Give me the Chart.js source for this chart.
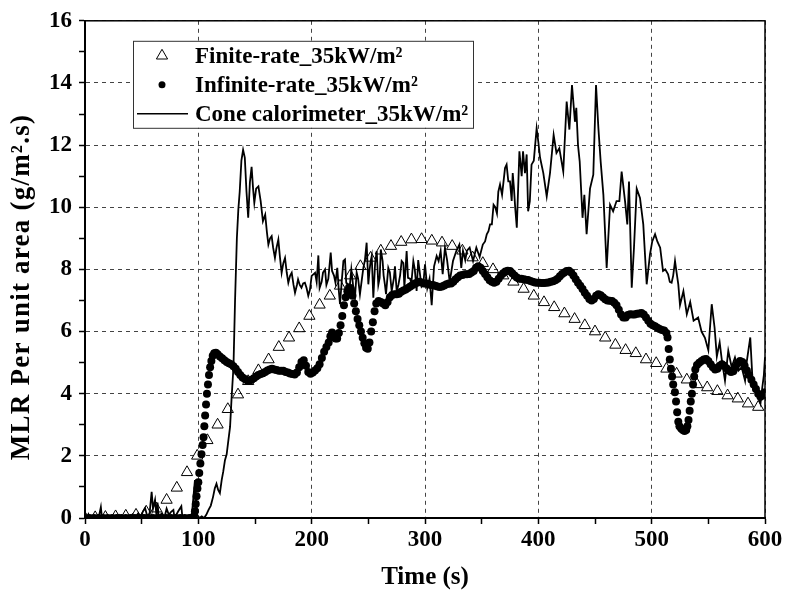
<!DOCTYPE html>
<html>
<head>
<meta charset="utf-8">
<script src="https://cdn.jsdelivr.net/npm/chart.js@4.4.1/dist/chart.umd.min.js"></script>
<style>
  html, body { margin: 0; padding: 0; background: #fff; }
  #wrap { width: 785px; height: 595px; }
</style>
</head>
<body>
<div id="wrap"><canvas id="mlr_chart" width="785" height="595"></canvas></div>
<script>
// Finite-rate model (triangles)
const finiteTime = [0, 9, 18, 27, 36, 45, 54, 63, 72, 81, 90, 99, 108, 117, 126, 135, 144, 153, 162, 171,
  180, 189, 198, 207, 216, 225, 234, 243, 252, 261, 270, 279, 288, 297, 306, 315, 324, 333, 342, 351,
  360, 369, 378, 387, 396, 405, 414, 423, 432, 441, 450, 459, 468, 477, 486, 495, 504, 513, 522, 531,
  540, 549, 558, 567, 576, 585, 594];
const finiteMLR = [0, 0.02, 0.03, 0.05, 0.07, 0.1, 0.2, 0.3, 0.58, 0.97, 1.47, 2.0, 2.5, 3.0, 3.5, 3.97, 4.4, 4.75, 5.1, 5.5,
  5.8, 6.1, 6.5, 6.86, 7.15, 7.47, 7.8, 8.1, 8.37, 8.6, 8.75, 8.88, 8.96, 8.97, 8.92, 8.86, 8.75, 8.6, 8.38, 8.2,
  8.0, 7.8, 7.6, 7.37, 7.15, 6.94, 6.78, 6.58, 6.4, 6.2, 6.0, 5.8, 5.57, 5.4, 5.3, 5.1, 4.98, 4.8, 4.64, 4.45,
  4.3, 4.2, 4.08, 3.94, 3.84, 3.68, 3.57];

// Infinite-rate model (dots)
const infiniteTime = [0, 4, 8, 12, 16, 20, 24, 28, 32, 36, 40, 44, 48, 52, 56, 60, 64, 68, 72, 76, 80, 84, 88, 92, 94,
  96, 97, 97.7, 98.4, 99.2, 100, 100.8, 101.8, 102.8, 103.8, 104.6, 105.3, 106, 106.8, 107.6, 108.5, 109.4, 110.4, 111.5, 112.7,
  114, 115.5, 117, 119, 121, 123, 125, 127, 129, 131, 133, 135, 137, 139, 141, 143, 145, 147, 149, 151, 153, 155, 157, 159,
  161, 163, 165, 167, 169, 171, 173, 175, 177, 179, 181, 183, 185, 187, 189, 191, 193, 195, 197, 199, 201, 203, 205, 207, 209,
  211, 213, 215, 216.5, 218, 219.5, 221, 222.5, 224, 225.5, 227, 228.5, 230, 231.5, 233, 234.5, 236, 237.5, 239, 240.5, 242,
  243.5, 245, 246.5, 248, 249.5, 251, 252.5, 254, 255.5, 257, 259, 261, 263, 265, 267, 269, 271, 273, 275, 277, 279, 281, 283,
  285, 287, 289, 291, 293, 295, 297, 299, 301, 303, 305, 307, 309, 311, 313, 315, 317, 319, 321, 323, 325, 327, 329, 331, 333,
  335, 337, 339, 341, 343, 345, 347, 349, 351, 353, 355, 357, 359, 361, 363, 365, 367, 369, 371, 373, 375, 377, 379, 381, 383,
  385, 387, 389, 391, 393, 395, 397, 399, 401, 403, 405, 407, 409, 411, 413, 415, 417, 419, 421, 423, 425, 427, 429, 431, 433,
  435, 437, 439, 441, 443, 445, 447, 449, 451, 453, 455, 457, 459, 461, 463, 465, 467, 469, 471, 473, 475, 477, 479, 481, 483,
  485, 487, 489, 491, 493, 495, 497, 499, 501, 503, 505, 507, 509, 511, 513, 514, 515, 516, 517, 518, 519, 520.5, 521.5, 522.5,
  523.5, 524.5, 526, 527.5, 529, 530.5, 531.5, 532.5, 533.5, 534.5, 535.5, 536.5, 537.5, 538.5, 540, 542, 544, 546, 548, 550,
  552, 554, 556, 558, 560, 562, 564, 566, 568, 570, 572, 574, 576, 578, 580, 582, 584, 586, 588, 590, 592, 594, 596, 598, 600];
const infiniteMLR = [0, 0, 0, 0, 0, 0, 0, 0, 0, 0, 0, 0, 0, 0, 0, 0, 0, 0, 0, 0, 0, 0, 0, 0, 0,
  0.05, 0.22, 0.45, 0.7, 0.95, 1.15, 1.45, 1.75, 2.05, 2.35, 2.6, 2.95, 3.3, 3.65, 4.0, 4.3, 4.6, 4.85, 5.05, 5.22,
  5.3, 5.32, 5.27, 5.2, 5.14, 5.08, 5.02, 4.98, 4.95, 4.88, 4.8, 4.7, 4.6, 4.52, 4.47, 4.43, 4.42, 4.45, 4.5, 4.55, 4.6, 4.63, 4.66, 4.7,
  4.75, 4.78, 4.8, 4.78, 4.76, 4.74, 4.74, 4.74, 4.7, 4.68, 4.65, 4.63, 4.62, 4.68, 4.85, 5.02, 5.08, 4.9, 4.7, 4.64, 4.68, 4.75, 4.82, 4.95, 5.15,
  5.35, 5.5, 5.65, 5.85, 5.97, 5.9, 5.78, 5.78, 5.95, 6.2, 6.5, 6.85, 7.1, 7.3, 7.42, 7.38, 7.15, 6.9, 6.65, 6.4, 6.2,
  6.0, 5.8, 5.62, 5.48, 5.45, 5.65, 6.0, 6.3, 6.65, 6.9, 6.98, 6.95, 6.9, 6.85, 6.95, 7.1, 7.18, 7.2, 7.2, 7.22, 7.28, 7.32, 7.35,
  7.4, 7.45, 7.5, 7.55, 7.57, 7.6, 7.58, 7.55, 7.55, 7.53, 7.5, 7.5, 7.47, 7.45, 7.43, 7.45, 7.48, 7.52, 7.55, 7.55, 7.6, 7.68, 7.75, 7.8, 7.82,
  7.84, 7.84, 7.85, 7.9, 7.95, 8.05, 8.1, 8.05, 7.95, 7.85, 7.75, 7.65, 7.6, 7.57, 7.6, 7.7, 7.8, 7.88, 7.93, 7.96, 7.95, 7.88, 7.8, 7.74, 7.7,
  7.7, 7.68, 7.67, 7.66, 7.63, 7.6, 7.58, 7.57, 7.57, 7.56, 7.56, 7.57, 7.58, 7.6, 7.62, 7.65, 7.7, 7.78, 7.85, 7.9, 7.95, 7.96, 7.9, 7.8, 7.68,
  7.57, 7.47, 7.37, 7.25, 7.15, 7.05, 7.0, 7.05, 7.15, 7.2, 7.17, 7.1, 7.04, 7.0, 6.99, 6.98, 6.93, 6.85, 6.7, 6.55, 6.45, 6.45, 6.53, 6.56, 6.55,
  6.55, 6.57, 6.58, 6.6, 6.55, 6.45, 6.35, 6.25, 6.2, 6.17, 6.12, 6.08, 6.05, 6.03, 5.95, 5.81, 5.44, 5.1, 4.8, 4.55, 4.3, 4.05, 3.75, 3.4,
  3.1, 2.95, 2.88, 2.83, 2.8, 2.83, 2.95, 3.15, 3.45, 3.75, 4.0, 4.3, 4.55, 4.78, 4.92, 5.0, 5.05, 5.1, 5.12, 5.05,
  4.95, 4.85, 4.78, 4.8, 4.9, 4.95, 4.9, 4.82, 4.75, 4.7, 4.72, 4.85, 4.98, 5.05, 5.02, 4.9, 4.75, 4.6, 4.45, 4.3, 4.15, 4.0, 3.9, 3.95, 4.05];

// Cone calorimeter measurement (line)
const coneTime = [0, 2, 3, 4, 6, 8, 10, 12, 14, 15, 18, 20, 24, 26, 30, 32, 36, 38, 42, 44, 47, 49, 51, 53, 55, 57, 58.8, 60,
  61.8, 63, 64, 65, 68, 70, 72, 74, 76, 78, 79, 82, 85, 86, 88, 90, 94, 95.5, 97, 98, 99, 101, 103, 105, 107, 109, 111, 113,
  114.5, 116, 117.5, 119, 120.6, 122, 123.5, 125, 126.5, 128, 129.4, 131, 132.4, 134, 135.3, 136.5, 138, 139.5, 141, 142.5, 144,
  145.5, 147, 148.3, 149.4, 151, 153, 155, 157, 159, 160.5, 161.8, 163.3, 164.7, 166, 167.6, 169, 170.6, 172, 173.5, 175, 176.5,
  178, 179.4, 181, 182.4, 184, 185.3, 187, 188, 189.5, 191, 192.5, 194, 195.5, 197, 198.5, 200, 201.5, 203, 204.4, 205.9, 207,
  208.8, 210, 211.8, 213, 214.7, 216.8, 218, 219.7, 221, 222.6, 224, 225, 226.5, 228, 229.4, 230.5, 232, 233.2, 235, 236.8, 238.2,
  239.7, 241, 242.6, 244, 245.6, 247, 248.5, 250, 251, 252, 253, 254.4, 256, 257.4, 258.8, 260, 261, 262.6, 263.5, 264.6, 265.6,
  267.6, 269, 270.6, 272.6, 273.5, 275, 276.5, 278, 279.4, 280.9, 281.8, 283.8, 285, 286.8, 288, 289.7, 291, 292.6, 294, 295.6,
  297, 298.5, 300, 302, 304, 305.9, 308, 310.3, 312, 313.8, 315.6, 317.6, 319.5, 321.8, 324.7, 327.7, 330.3, 332, 333.5, 335.5,
  337, 339.4, 342.4, 345.3, 348.2, 351, 353, 354.5, 356, 357.4, 359, 360.5, 362, 363.5, 364.7, 366.2, 368, 370.6, 372, 373.5,
  375, 376.5, 377.4, 378.5, 379.6, 381, 383.3, 385.3, 386.5, 388.2, 389.7, 391, 392.5, 394, 396, 398.5, 400, 401.5, 404.4, 407.4,
  410.3, 413.5, 416, 418.5, 422, 425, 427.4, 429.7, 432.3, 433.5, 435, 436.5, 439, 440.6, 442.6, 445.6, 448.5, 450.9, 453, 455,
  457.4, 460.3, 463.3, 466, 469, 471.5, 473.5, 476.5, 478.5, 480, 482.4, 484.4, 486.8, 489.7, 492.6, 495.6, 498.5, 500.5, 503,
  505, 507.5, 510, 512, 514.5, 516, 517.6, 519, 520.6, 522, 523.5, 525, 528, 531, 534, 537, 541, 544, 547, 550, 553, 555.5,
  557.5, 560, 562, 564.7, 567.6, 570.6, 573.5, 576.5, 579.4, 582.4, 584, 587, 589, 591, 594, 596, 597.6, 599, 600];
const coneMLR = [0, 0.05, 0.12, 0, 0.05, 0, 0.02, 0, 0.35, 0, 0.05, 0, 0.08, 0, 0.1, 0, 0.05, 0, 0.12, 0, 0.15, 0, 0.2, 0.32, 0.05, 0.15, 0.84, 0.3,
  0.58, 0.1, 0.5, 0.05, 0.15, 0, 0.3, 0.1, 0.2, 0.26, 0, 0.2, 0.38, 0, 0.05, 0, 0, 0.6, 1.22, 0.6, 0.1, 0, 0.05, 0, 0.1, 0.26, 0.4, 0.68,
  0.95, 1.1, 0.9, 0.8, 1.22, 1.5, 1.86, 2.05, 2.5, 2.93, 3.9, 4.86, 7.0, 9.0, 9.93, 10.5, 11.5, 11.85, 11.6, 10.5, 9.66,
  10.8, 11.3, 10.6, 10.14, 10.6, 10.67, 10.2, 9.55, 9.76, 9.2, 8.8, 9.0, 9.07, 8.7, 8.37, 8.7, 8.96, 8.4, 7.89, 8.2, 8.37,
  7.9, 7.57, 7.8, 7.89, 7.5, 7.25, 7.5, 7.68, 7.5, 7.41, 7.55, 7.57, 7.4, 7.15, 7.35, 7.79, 7.84, 7.89, 7.6, 8.45, 7.4,
  7.6, 7.9, 8.0, 7.5, 7.7, 8.54, 7.95, 7.8, 7.57, 8.05, 7.3, 6.88, 7.6, 8.27, 8.32, 7.57, 7.52, 7.3, 8.0, 7.4, 7.09,
  7.9, 7.7, 7.2, 7.6, 8.05, 8.3, 8.86, 7.52, 7.95, 8.26, 8.43, 7.09, 8.2, 8.59, 7.5, 7.73, 8.64, 8.27, 7.8, 7.52, 7.2,
  8.05, 7.9, 7.3, 7.73, 8.1, 7.3, 7.5, 7.8, 8.27, 8.2, 7.41, 8.59, 7.73, 7.7, 7.57, 8.27, 8.0, 7.31, 8.3, 7.84,
  7.45, 7.52, 8.16, 7.4, 7.7, 6.85, 8.1, 8.43, 8.27, 8.59, 7.85, 8.7, 8.3, 7.6, 8.27, 8.6, 8.8, 8.05, 8.6, 8.3,
  8.6, 8.7, 8.27, 8.7, 8.4, 8.8, 8.9, 9.13, 9.23, 9.45, 9.45, 10.08, 10.0, 9.8, 10.5, 10.73, 10.4, 11.26, 11.37, 10.83,
  10.83, 10.2, 11.1, 10.6, 9.98, 9.34, 11.8, 11.0, 11.8, 11.1, 11.7, 9.87, 10.2, 11.37, 11.5, 12.54, 12.1, 11.6, 11.1, 10.35,
  11.1, 12.33, 11.75, 11.9, 11.15, 13.4, 12.5, 13.93, 12.75, 13.2, 12.0, 11.47, 9.66, 10.4, 9.13, 10.6, 11.05, 13.93, 12.54, 11.47,
  10.4, 8.05, 10.08, 9.87, 10.2, 10.2, 11.15, 10.2, 9.45, 10.83, 7.41, 8.7, 10.6, 10.3, 9.45, 7.52, 8.48, 8.9, 9.13,
  8.9, 8.7, 7.95, 8.0, 7.84, 7.6, 7.57, 7.8, 8.27, 7.9, 7.52, 6.85, 7.3, 6.56, 6.95, 6.35, 6.45, 6.0, 5.8, 5.4, 6.88, 6.13,
  5.2, 5.65, 5.06, 4.42, 5.38, 4.85, 5.17, 4.74, 4.85, 4.42, 5.06, 5.81, 4.42, 4.1, 3.89, 3.68, 4.2, 4.6, 5.17];

const xTicks = [0, 100, 200, 300, 400, 500, 600];
const yTicks = [0, 2, 4, 6, 8, 10, 12, 14, 16];
const seriesNames = ['Finite-rate_35kW/m\u00b2', 'Infinite-rate_35kW/m\u00b2', 'Cone calorimeter_35kW/m\u00b2'];
const yTitle = 'MLR Per unit area (g/m\u00b2.s)';

const toPoints = (xs, ys) => xs.map((x, i) => ({ x: x, y: ys[i] }));
const serif = '"Liberation Serif", "Times New Roman", serif';

// frame on all four sides, the boxed legend inside the plot, and the y title
const framePlugin = {
  id: 'frame',
  afterDraw(chart) {
    const c = chart.ctx, a = chart.chartArea;
    c.save();
    c.strokeStyle = '#000';
    c.lineWidth = 1.5;
    c.strokeRect(a.left, a.top, a.right - a.left, a.bottom - a.top);

    const bx = a.left + 48, by = a.top + 20, bw = 340, bh = 87;
    c.fillStyle = '#fff';
    c.fillRect(bx, by, bw, bh);
    c.lineWidth = 1;
    c.strokeStyle = '#333';
    c.strokeRect(bx + 0.5, by + 0.5, bw, bh);

    const rows = [by + 15, by + 44, by + 73];
    const sx = bx + 29;
    // triangle
    c.beginPath();
    c.moveTo(sx, rows[0] - 6.5);
    c.lineTo(sx + 5.6, rows[0] + 3.2);
    c.lineTo(sx - 5.6, rows[0] + 3.2);
    c.closePath();
    c.strokeStyle = '#000';
    c.lineWidth = 1;
    c.stroke();
    // dot
    c.beginPath();
    c.arc(sx, rows[1], 3.5, 0, Math.PI * 2);
    c.fillStyle = '#000';
    c.fill();
    // line
    c.beginPath();
    c.moveTo(bx + 4, rows[2]);
    c.lineTo(bx + 55, rows[2]);
    c.lineWidth = 1.6;
    c.stroke();

    c.font = 'bold 23px ' + serif;
    c.textBaseline = 'middle';
    c.textAlign = 'left';
    seriesNames.forEach((n, i) => c.fillText(n, bx + 62, rows[i] + 1));

    // y axis title
    c.font = 'bold 27px ' + serif;
    const plain = c.measureText(yTitle).width;
    c.letterSpacing = Math.max(0, (345 - plain) / (yTitle.length - 1)).toFixed(2) + 'px';
    c.translate(22, 287);
    c.rotate(-Math.PI / 2);
    c.textAlign = 'center';
    c.fillText(yTitle, 0, 0);
    c.restore();
  }
};

const ctx = document.getElementById('mlr_chart').getContext('2d');
const mlrChart = new Chart(ctx, {
  type: 'line',
  data: {
    datasets: [
      {
        label: seriesNames[0],
        data: toPoints(finiteTime, finiteMLR),
        showLine: false,
        pointStyle: 'triangle',
        pointRadius: 6.5,
        pointBorderWidth: 1,
        pointBorderColor: '#000',
        pointBackgroundColor: 'rgba(255,255,255,0)',
        order: 1
      },
      {
        label: seriesNames[1],
        data: toPoints(infiniteTime, infiniteMLR),
        showLine: false,
        pointStyle: 'circle',
        pointRadius: 4,
        pointBorderWidth: 0,
        pointBackgroundColor: '#000',
        order: 2
      },
      {
        label: seriesNames[2],
        data: toPoints(coneTime, coneMLR),
        borderColor: '#000',
        borderWidth: 1.8,
        pointRadius: 0,
        tension: 0,
        order: 3
      }
    ]
  },
  options: {
    responsive: false,
    animation: false,
    layout: { padding: { top: 19, right: 20, left: 0, bottom: 0 } },
    plugins: {
      legend: { display: false },
      tooltip: { enabled: false }
    },
    scales: {
      x: {
        type: 'linear',
        min: 0,
        max: 600,
        afterFit: s => { s.height = 77; },
        afterBuildTicks: s => { s.ticks = []; for (let v = 0; v <= 600; v += 50) s.ticks.push({ value: v }); },
        ticks: {
          callback: v => xTicks.includes(v) ? String(v) : '',
          color: '#000',
          font: { family: serif, size: 23, weight: 'bold' },
          padding: 2,
          maxRotation: 0,
          autoSkip: false
        },
        grid: {
          color: c => (c.tick && c.tick.value % 100 === 0) ? '#444' : 'rgba(0,0,0,0)',
          lineWidth: 1,
          tickColor: '#000',
          tickLength: 6,
          tickWidth: 1.5
        },
        border: { color: '#000', width: 2, dash: [4, 4] },
        title: {
          display: true,
          text: 'Time (s)',
          color: '#000',
          font: { family: serif, size: 25, weight: 'bold' },
          padding: { top: 0, bottom: 2 }
        }
      },
      y: {
        type: 'linear',
        min: 0,
        max: 16,
        afterFit: s => { s.width = 85; },
        afterBuildTicks: s => { s.ticks = []; for (let v = 0; v <= 16; v += 1) s.ticks.push({ value: v }); },
        ticks: {
          callback: v => yTicks.includes(v) ? String(v) : '',
          color: '#000',
          font: { family: serif, size: 23, weight: 'bold' },
          padding: 7,
          autoSkip: false
        },
        grid: {
          color: c => (c.tick && c.tick.value % 2 === 0) ? '#444' : 'rgba(0,0,0,0)',
          lineWidth: 1,
          tickColor: '#000',
          tickLength: 6,
          tickWidth: 1.5
        },
        border: { color: '#000', width: 2, dash: [4, 4] },
        title: { display: false }
      }
    }
  },
  plugins: [framePlugin]
});
</script>
</body>
</html>
